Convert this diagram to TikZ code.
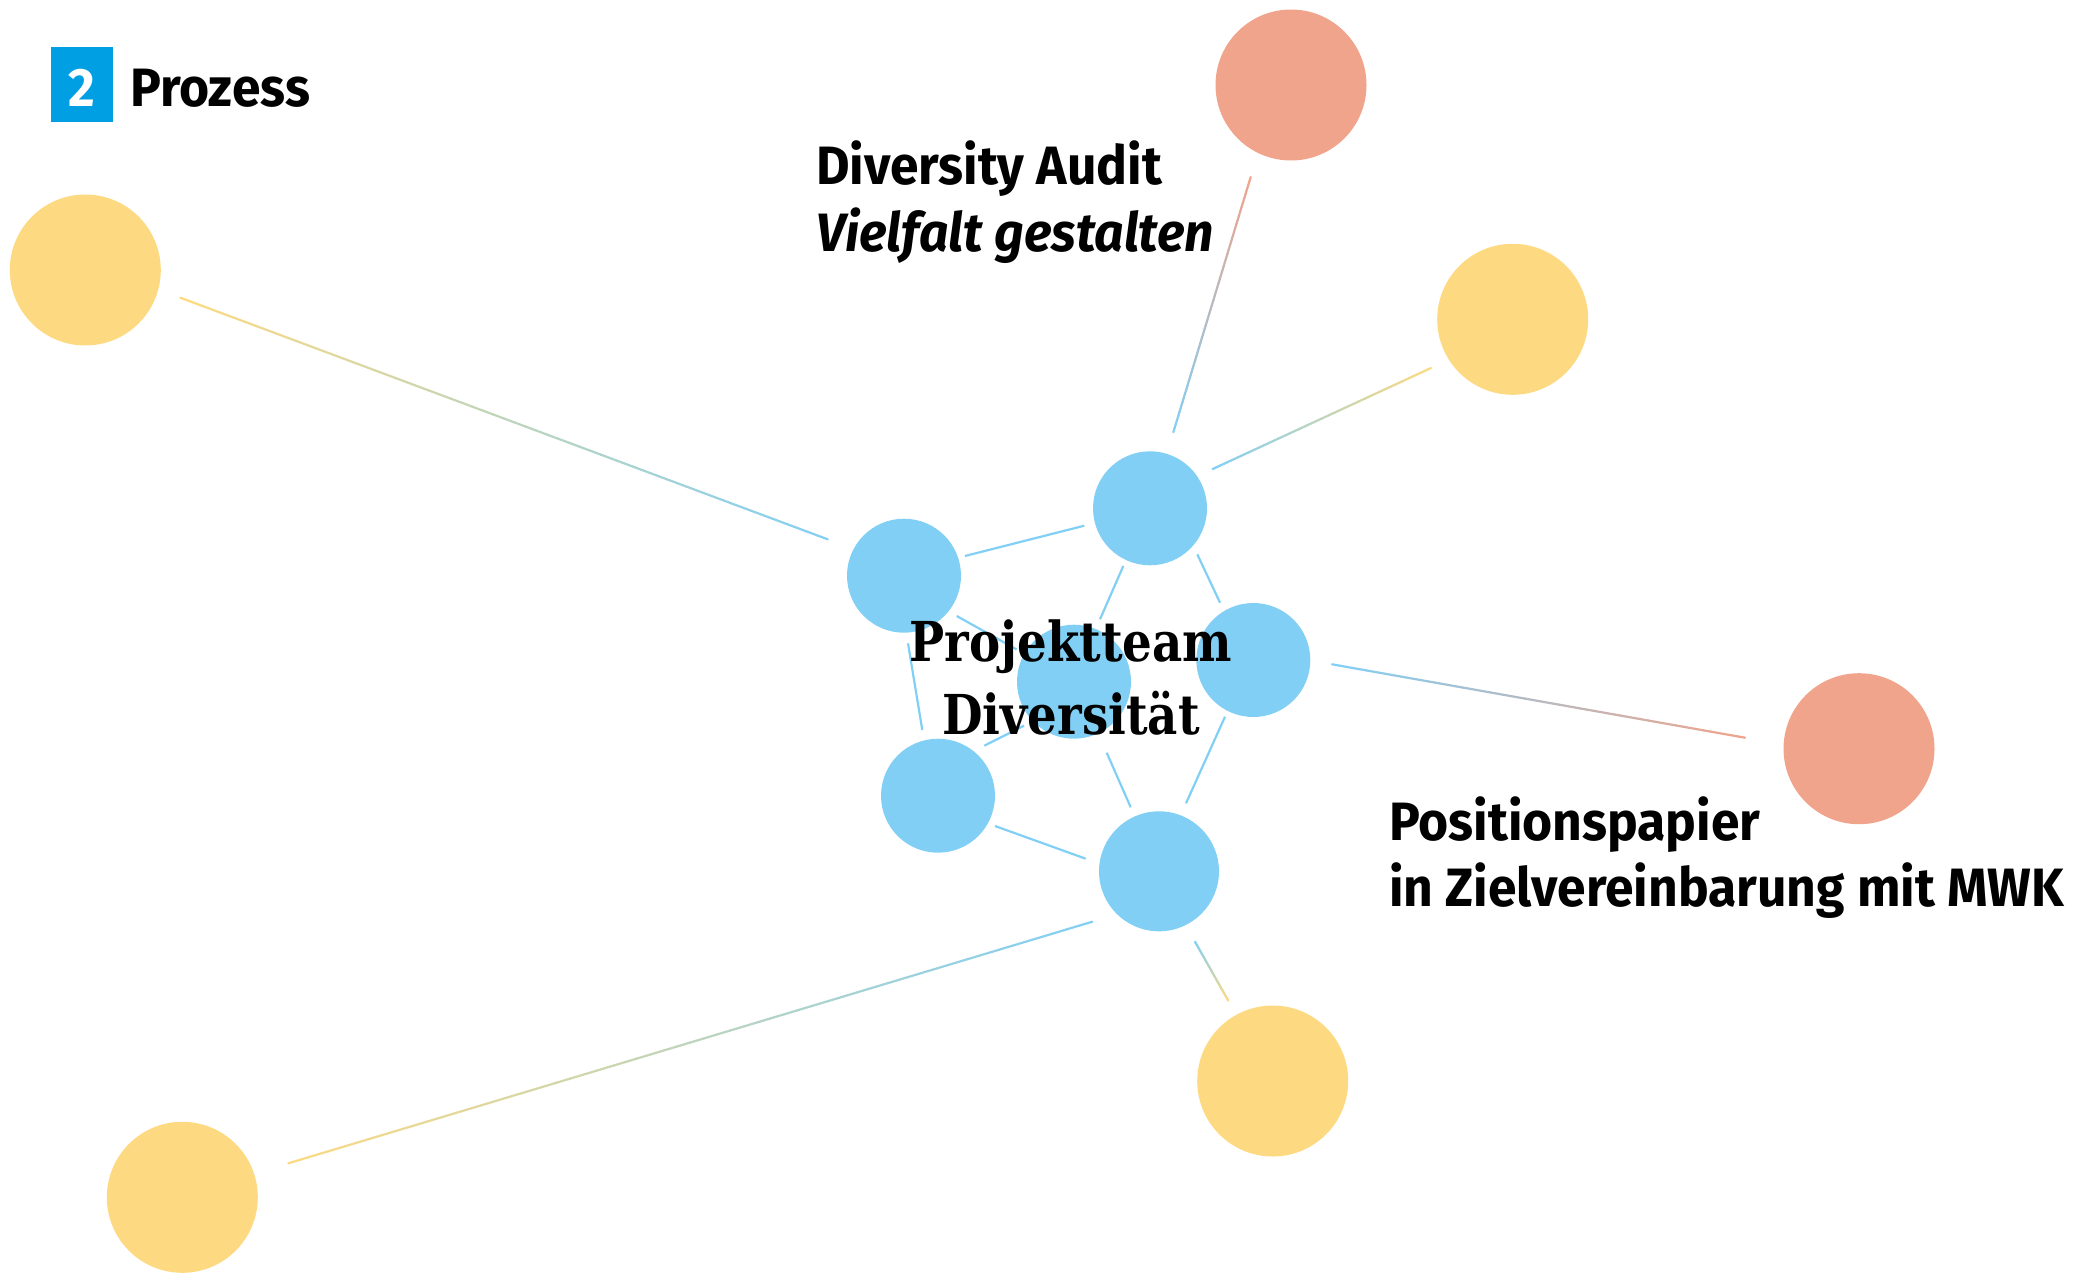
\documentclass[tikz,border=0pt]{standalone}
\usepackage{fontspec}
\setmainfont[FakeStretch=0.955]{Fira Sans}
\newfontfamily\slab[FakeStretch=0.85]{DejaVu Serif}
\usetikzlibrary{calc}
\definecolor{cblue}{RGB}{130,207,245}
\definecolor{cyellow}{RGB}{253,218,130}
\definecolor{cred}{RGB}{240,164,139}
\definecolor{boxblue}{RGB}{0,159,227}
% gradient connector: #1 start node, #2 offset from its centre, #3 end node, #4 offset, #5 colour at start, #6 colour at end
\newcommand\gline[6]{%
  \coordinate (gA) at ($(#1.center)+(#2)$);
  \coordinate (gB) at ($(#3.center)+(#4)$);
  \foreach \i in {1,...,60}{%
    \pgfmathtruncatemacro\gp{(100*\i-50)/60}%
    \draw[line width=2.2pt, line cap=round, color=#6!\gp!#5]
      ($(gA)!{(\i-1)/60}!(gB)$) -- ($(gA)!{\i/60}!(gB)$);
  }%
}
% plain connector
\newcommand\bline[4]{%
  \draw[conn] ($(#1.center)+(#2)$) -- ($(#3.center)+(#4)$);
}
\begin{document}
\begin{tikzpicture}[x=1pt,y=-1pt,
  blob/.style={circle, inner sep=0pt, outer sep=0pt, minimum size=#1},
  bnode/.style={blob=114pt, fill=cblue},
  ynode/.style={blob=151pt, fill=cyellow},
  rnode/.style={blob=151pt, fill=cred},
  conn/.style={draw=cblue, line width=2.2pt},
  lab/.style={font=\fontsize{54}{60}\selectfont\bfseries, anchor=base west, inner sep=0pt},
  slabtxt/.style={font=\fontsize{55}{60}\selectfont\slab\bfseries, anchor=base, inner sep=0pt},
  ]
\useasboundingbox (0,0) rectangle (2096,1274);
% circles
\node[bnode] (B1) at (904,575.7) {};
\node[bnode] (B2) at (1150,508.3) {};
\node[bnode] (B3) at (1074,681.7) {};
\node[bnode] (B4) at (1253.3,660) {};
\node[bnode] (B5) at (938,795.7) {};
\node[bnode, minimum size=120pt] (B6) at (1159,871.3) {};
\node[ynode] (Y1) at (85.3,270) {};
\node[ynode] (Y2) at (1512.7,319.3) {};
\node[ynode] (Y3) at (1272.7,1081) {};
\node[ynode] (Y4) at (182.3,1197.3) {};
\node[rnode] (R1) at (1291,85) {};
\node[rnode] (R2) at (1859,748.7) {};
% inner connectors
\bline{B1}{61,-19.7}{B2}{-65.7,17.4}
\bline{B2}{-26.7,57.7}{B3}{26,-62.4}
\bline{B2}{47.3,46}{B4}{-33.3,-57.3}
\bline{B1}{52.7,40.3}{B3}{-57.4,-32.3}
\bline{B1}{4,67.6}{B5}{-15.7,-65.7}
\bline{B5}{46.3,-50}{B3}{-50,44}
\bline{B3}{32.7,71}{B6}{-28.3,-64}
\bline{B4}{-28.3,56.7}{B6}{27,-68}
\bline{B5}{57,30.3}{B6}{-73.3,-12.6}
% outer gradient connectors
\gline{Y1}{95,27.7}{B1}{-76.3,-36.4}{cyellow}{cblue}
\gline{R1}{-40.3,92}{B2}{23.3,-76}{cred}{cblue}
\gline{Y2}{-81.7,48.7}{B2}{62.7,-39.3}{cyellow}{cblue}
\gline{B4}{78.7,4.3}{R2}{-114,-11}{cblue}{cred}
\gline{B6}{36,70.4}{Y3}{-44.4,-80.3}{cblue}{cyellow}
\gline{B6}{-66.7,50.4}{Y4}{106,-34}{cblue}{cyellow}
% title
\node[fill=boxblue, minimum width=61.7pt, minimum height=74.7pt, inner sep=0pt,
  text height=44.8pt, text depth=0pt, text=white,
  font=\fontsize{54}{60}\selectfont\bfseries] (num) at (81.9,84.3) {2};
\node[lab] (title) at (130,106.7) {Prozess};
% labels
\node[lab] (da1) at (816,184) {Diversity Audit};
\node[lab, font=\fontsize{54}{60}\selectfont\bfseries\itshape] (da2) at (816,251.5) {Vielfalt gestalten};
\node[lab] (pp1) at (1389,840) {Positionspapier};
\node[lab] (pp2) at (1389,906.7) {in Zielvereinbarung mit MWK};
\node[slabtxt] (pt1) at (1071,661) {Projektteam};
\node[slabtxt] (pt2) at (1071,734) {Diversität};
\end{tikzpicture}
\end{document}
